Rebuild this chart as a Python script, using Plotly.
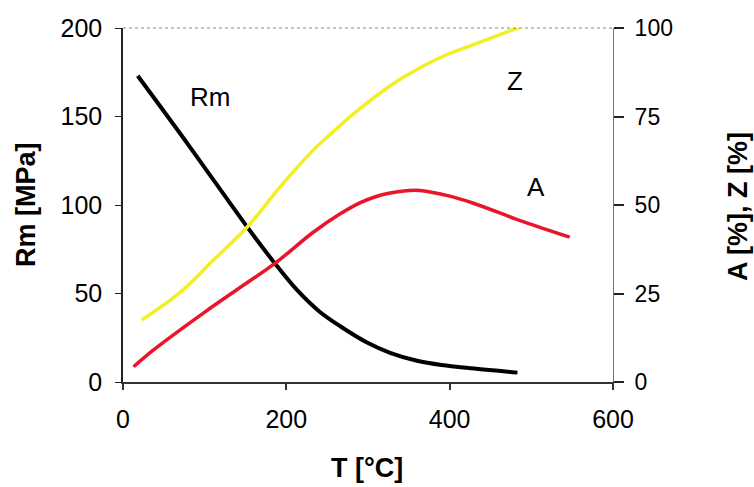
import plotly.graph_objects as go

# Tensile strength Rm [MPa] vs temperature
T_rm = [18, 80, 153, 186, 213, 240, 266, 300, 327, 360, 390, 430, 483]
Rm = [173, 134, 87, 67, 52, 40, 31.5, 22, 16.5, 12, 9.6, 7.6, 5.3]

# Reduction of area Z [%]
T_z = [23, 70, 111, 153, 192, 233, 266, 290, 320, 347, 390, 429, 489]
Z = [17.5, 25.3, 34.5, 44, 55, 65.5, 72.5, 77.2, 82.5, 86.6, 91.8, 95.3, 100.5]

# Elongation A [%]
T_a = [13, 37, 98, 139, 186, 233, 266, 290, 310, 327, 350, 364, 400, 429, 490, 547]
A = [4.3, 9, 19.4, 26, 33.5, 42.3, 47.5, 50.6, 52.4, 53.4, 54.1, 54.1, 52.5, 50.5, 45.3, 40.9]

x_ticks = [0, 200, 400, 600]
rm_ticks = [0, 50, 100, 150, 200]
pct_ticks = [0, 25, 50, 75, 100]

font = "Liberation Sans, Arial, sans-serif"

fig = go.Figure()
fig.add_trace(go.Scatter(x=T_z, y=Z, yaxis="y2", mode="lines",
                         line=dict(color="#f2f022", width=3.5, shape="spline", smoothing=1.0)))
fig.add_trace(go.Scatter(x=T_a, y=A, yaxis="y2", mode="lines",
                         line=dict(color="#e8152b", width=3.5, shape="spline", smoothing=1.0)))
fig.add_trace(go.Scatter(x=T_rm, y=Rm, mode="lines",
                         line=dict(color="#000000", width=4, shape="spline", smoothing=1.0)))

fig.update_layout(
    width=754, height=487,
    margin=dict(l=123, r=141, t=28, b=105),
    plot_bgcolor="white", paper_bgcolor="white",
    showlegend=False,
    font=dict(family=font, size=24, color="black"),
    xaxis=dict(range=[0, 600], tickvals=x_ticks, showgrid=False, zeroline=False,
               showline=True, linecolor="#333", linewidth=1.5,
               ticks="outside", ticklen=6, tickcolor="#333", tickwidth=1.5,
               tickfont=dict(size=25), ticklabelstandoff=8),
    yaxis=dict(range=[0, 200], tickvals=rm_ticks, showgrid=False, zeroline=False,
               showline=True, linecolor="#222", linewidth=1.5,
               ticks="outside", ticklen=6, tickcolor="#222",
               tickfont=dict(size=25), ticklabelstandoff=8),
    yaxis2=dict(range=[0, 100], tickvals=pct_ticks, overlaying="y", side="right",
                showgrid=False, zeroline=False, showline=True, linecolor="#777",
                linewidth=1, ticks="outside", ticklen=10, tickcolor="#222", tickwidth=2,
                tickfont=dict(size=23), ticklabelstandoff=6),
)

# dotted top frame line
fig.add_shape(type="line", xref="paper", yref="paper", x0=0, x1=1, y0=1, y1=1,
              line=dict(color="#888", width=1.2, dash="dot"))

# axis titles
fig.add_annotation(text="<b>T [°C]</b>", xref="paper", yref="paper", x=0.498, y=-0.243,
                   showarrow=False, font=dict(size=27), xanchor="center", yanchor="middle")
fig.add_annotation(text="<b>Rm [MPa]</b>", xref="paper", yref="paper", x=-0.198, y=0.503,
                   showarrow=False, textangle=-90, font=dict(size=27),
                   xanchor="center", yanchor="middle")
fig.add_annotation(text="<b>A [%], Z [%]</b>", xref="paper", yref="paper", x=1.255, y=0.497,
                   showarrow=False, textangle=-90, font=dict(size=27),
                   xanchor="center", yanchor="middle")

# curve labels
fig.add_annotation(text="Rm", x=106.5, y=161, showarrow=False, font=dict(size=26))
fig.add_annotation(text="Z", x=480, y=170, showarrow=False, font=dict(size=26))
fig.add_annotation(text="A", x=506, y=110, showarrow=False, font=dict(size=26))

fig.write_html("out.html")
